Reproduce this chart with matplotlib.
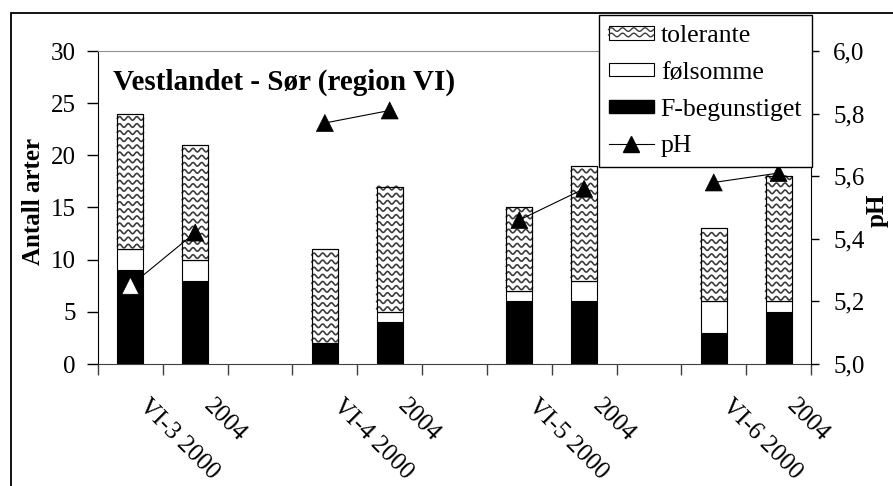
import numpy as np
import matplotlib
matplotlib.use("Agg")
import matplotlib.pyplot as plt
from matplotlib.patches import Rectangle
from matplotlib.lines import Line2D
from matplotlib.legend_handler import HandlerBase
from matplotlib import transforms

plt.rcParams['font.family'] = ['Liberation Serif', 'DejaVu Serif']

# ---------------- data ----------------
categories = ["VI-3 2000", "2004", "", "VI-4 2000", "2004", "",
              "VI-5 2000", "2004", "", "VI-6 2000", "2004"]
f_begunstiget = [9, 8, None, 2, 4, None, 6, 6, None, 3, 5]
folsomme = [2, 2, None, 0, 1, None, 1, 2, None, 3, 1]
tolerante = [13, 11, None, 9, 12, None, 8, 11, None, 7, 12]
ph = [5.25, 5.42, None, 5.77, 5.81, None, 5.46, 5.56, None, 5.58, 5.61]
left_ticks = [0, 5, 10, 15, 20, 25, 30]
right_ticks = [5.0, 5.2, 5.4, 5.6, 5.8, 6.0]
right_ticklabels = ["5,0", "5,2", "5,4", "5,6", "5,8", "6,0"]
title = "Vestlandet - Sør (region VI)"
series_names = ["tolerante", "følsomme", "F-begunstiget", "pH"]


def arr(v):
    return np.array([np.nan if a is None else a for a in v], dtype=float)


fb = arr(f_begunstiget)
fo = arr(folsomme)
to = arr(tolerante)
phv = arr(ph)
x = np.arange(len(categories))

W, H = 893, 486
fig = plt.figure(figsize=(W / 100, H / 100), dpi=100)
fig.patch.set_facecolor('white')

# outer frame (extends past right and bottom)
fig.patches.append(Rectangle((11 / W, -0.2), 1.2, 1.2 - 13 / H,
                             transform=fig.transFigure, fill=False,
                             ec='black', lw=1.3, zorder=0))

L, R, T, B = 98, 811, 51, 364
ax = fig.add_axes([L / W, 1 - B / H, (R - L) / W, (B - T) / H])
ax.set_facecolor('none')

bw = 0.4
bars_f = ax.bar(x, fb, bw, color='black', edgecolor='black', lw=0.8, zorder=2)
bars_s = ax.bar(x, fo, bw, bottom=fb, color='white', edgecolor='black', lw=0.8, zorder=2)
bars_t = ax.bar(x, to, bw, bottom=fb + fo, color='white', edgecolor='black', lw=0.8, zorder=2)

# wavy fill pattern for "tolerante"
wave_color = '#3c3c3c'
for rect in bars_t:
    x0, y0 = rect.get_x(), rect.get_y()
    w, h = rect.get_width(), rect.get_height()
    if not np.isfinite(h) or h <= 0:
        continue
    xs = np.linspace(x0, x0 + w, 80)
    for base in np.arange(y0 + 0.3, y0 + h, 0.68):
        ys = base + 0.17 * np.sin(2 * np.pi * (xs - x0) / (w / 3.0))
        ln = Line2D(xs, ys, color=wave_color, lw=1.2, zorder=2.5)
        ln.set_clip_path(rect)
        ax.add_line(ln)
    ax.add_patch(Rectangle((x0, y0), w, h, fill=False, ec='black', lw=0.8, zorder=2.6))

ax.set_xlim(-0.5, len(categories) - 0.5)
ax.set_ylim(0, 30)
ax.set_yticks(left_ticks)
ax.tick_params(axis='y', direction='out', length=8, width=1, pad=8, labelsize=18)

ax.set_xticks(x, labels=categories)
ax.set_xticks(np.arange(-0.5, len(categories), 1), minor=True)
ax.tick_params(axis='x', which='major', length=0, pad=22, labelsize=18)
ax.tick_params(axis='x', which='minor', length=8, width=1, color='#404040', direction='out')
offset = transforms.ScaledTranslation(4 / 100, 0, fig.dpi_scale_trans)
for lbl in ax.get_xticklabels():
    lbl.set_rotation(-45)
    lbl.set_ha('left')
    lbl.set_va('top')
    lbl.set_transform(lbl.get_transform() + offset)

ax.spines['left'].set_color('black')
ax.spines['bottom'].set_color('#404040')
ax.spines['top'].set_color('#909090')
ax.spines['right'].set_visible(False)

ax.set_ylabel("Antall arter", fontsize=18, fontweight='bold')
ax.yaxis.set_label_coords((33 - L) / (R - L), (B - 201) / (B - T))
ax.yaxis.label.set_va('center')
ax.yaxis.label.set_ha('center')

ax.text((113 - L) / (R - L), (B - 82) / (B - T), title, transform=ax.transAxes,
        fontsize=21, fontweight='bold', ha='left', va='center')

# secondary axis (pH)
ax2 = ax.twinx()
ax2.set_ylim(5.0, 6.0)
ax2.set_yticks(right_ticks, labels=right_ticklabels)
ax2.tick_params(axis='y', direction='out', length=6, width=1, pad=10, labelsize=18)
for s in ['top', 'left', 'bottom']:
    ax2.spines[s].set_visible(False)
ax2.spines['right'].set_color('black')
ax2.set_ylabel("pH", fontsize=18, fontweight='bold')
ax2.yaxis.set_label_coords((877 - L) / (R - L), (B - 210) / (B - T))
ax2.yaxis.label.set_va('center')
ax2.yaxis.label.set_ha('center')

ax2.plot(x, phv, color='black', lw=0.8, zorder=3)
# marker colour: white where it sits on a black bar segment
ph_left = (phv - 5.0) * 30.0
face = ['white' if (np.isfinite(p) and p < f) else 'black' for p, f in zip(ph_left, fb)]
ax2.scatter(x, phv, marker='^', s=150, c=face, edgecolors='black', linewidths=0.5, zorder=4)


class HandlerWave(HandlerBase):
    def create_artists(self, legend, orig_handle, xdescent, ydescent,
                       width, height, fontsize, trans):
        r = Rectangle((-xdescent, -ydescent), width, height, fc='white',
                      ec='black', lw=0.8, transform=trans)
        arts = [r]
        xs = np.linspace(-xdescent, -xdescent + width, 60)
        for k in (0.33, 0.72):
            ys = -ydescent + k * height + 0.13 * height * np.sin(2 * np.pi * (xs + xdescent) / (width / 4.0))
            ln = Line2D(xs, ys, color=wave_color, lw=1.0, transform=trans)
            arts.append(ln)
        return arts


h_tol = Rectangle((0, 0), 1, 1, fc='white', ec='black')
h_fol = Rectangle((0, 0), 1, 1, fc='white', ec='black', lw=0.8)
h_fb = Rectangle((0, 0), 1, 1, fc='black', ec='black')
h_ph = Line2D([], [], color='black', lw=0.8, marker='^', markersize=12)

leg = ax2.legend([h_tol, h_fol, h_fb, h_ph], series_names,
                 handler_map={h_tol: HandlerWave()},
                 loc='upper right', bbox_to_anchor=(812 / W, 1 - 15 / H),
                 bbox_transform=fig.transFigure, fontsize=18.5, frameon=True,
                 fancybox=False, edgecolor='black', framealpha=1,
                 handlelength=1.75, handleheight=0.45, handletextpad=0.28,
                 labelspacing=0.58, borderpad=0.38, borderaxespad=0)
leg.get_frame().set_linewidth(1.0)
leg.set_zorder(10)

fig.savefig("out.png", dpi=100)
